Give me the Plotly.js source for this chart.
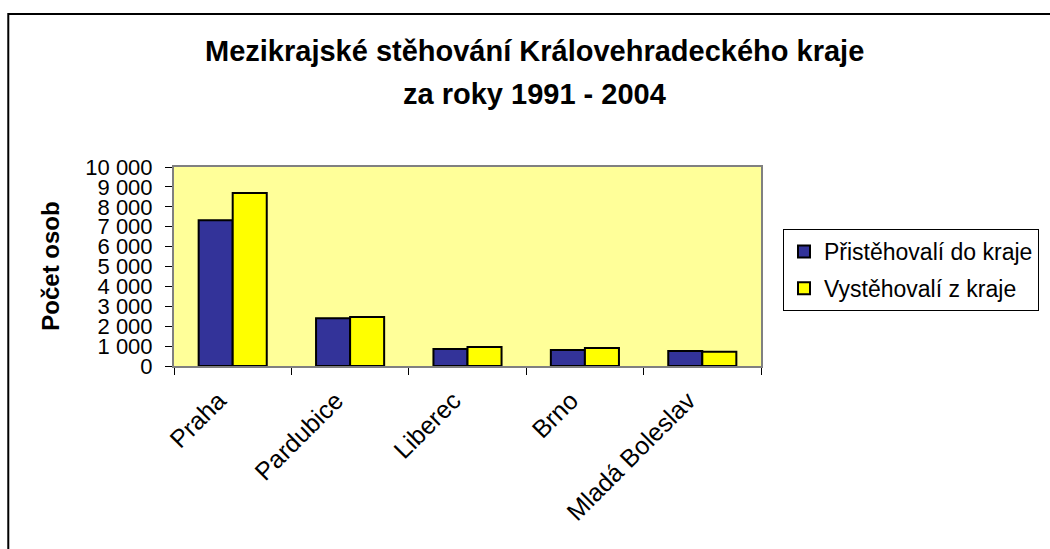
<!DOCTYPE html>
<html>
<head>
<meta charset="utf-8">
<script src="https://cdn.plot.ly/plotly-3.0.1.min.js"></script>
<style>html,body{margin:0;padding:0;background:#fff;}#chart{width:1050px;height:549px;}</style>
</head>
<body>
<div id="chart"></div>
<script>
const categories = ["Praha", "Pardubice", "Liberec", "Brno", "Mladá Boleslav"];
const seriesNames = ["Přistěhovalí do kraje", "Vystěhovalí z kraje"];
const prist = [7320, 2400, 860, 810, 760];
const vyst = [8690, 2460, 950, 900, 710];
const titleLines = ["Mezikrajské stěhování Královehradeckého kraje", "za roky 1991 - 2004"];
const yTitle = "Počet osob";

const FONT = "'Liberation Sans', Arial, sans-serif";
const L = 174, R = 762, T = 167, B = 366, W = 1050, H = 549;
const px2x = p => (p - L) / (R - L);
const py2y = p => (B - p) / (B - T);

const traces = [
  {type: "bar", x: categories, y: prist, name: seriesNames[0], legendgroup: "a",
   marker: {color: "#333399", line: {color: "#000000", width: 2}}},
  {type: "bar", x: categories, y: vyst, name: seriesNames[1], legendgroup: "b",
   marker: {color: "#FFFF00", line: {color: "#000000", width: 2}}}
];

const layout = {
  width: W, height: H,
  margin: {l: L, r: W - R, t: T, b: H - B, pad: 0},
  paper_bgcolor: "#ffffff",
  plot_bgcolor: "#FFFF99",
  separators: ", ",
  font: {family: FONT, color: "#000000", size: 22},
  barmode: "group", bargap: 0.42, bargroupgap: 0,
  showlegend: true,
  legend: {x: px2x(783), y: py2y(229), xanchor: "left", yanchor: "top",
           bordercolor: "#000000", borderwidth: 1, bgcolor: "#ffffff",
           font: {family: FONT, size: 23, color: "#000000"},
           traceorder: "grouped", tracegroupgap: 4, itemclick: false},
  xaxis: {type: "category", tickangle: -45, tickson: "boundaries",
          ticks: "outside", ticklen: 7, tickcolor: "#000000", tickwidth: 1,
          ticklabelshift: -14, ticklabelstandoff: 8,
          showline: true, linecolor: "#808080", linewidth: 2, mirror: true,
          showgrid: false, zeroline: false,
          tickfont: {family: FONT, size: 25, color: "#000000"}},
  yaxis: {range: [0, 10000], dtick: 1000, tickformat: ",d",
          ticks: "outside", ticklen: 7, tickcolor: "#000000", tickwidth: 1,
          ticklabelstandoff: 8,
          showline: true, linecolor: "#808080", linewidth: 2, mirror: true,
          showgrid: false, zeroline: false,
          tickfont: {family: FONT, size: 22, color: "#000000"}},
  annotations: [
    {xref: "paper", yref: "paper", x: px2x(535), y: py2y(51), xanchor: "center", yanchor: "middle",
     text: "<b>" + titleLines[0] + "</b>", showarrow: false,
     font: {family: FONT, size: 29, color: "#000000"}},
    {xref: "paper", yref: "paper", x: px2x(535), y: py2y(94), xanchor: "center", yanchor: "middle",
     text: "<b>" + titleLines[1] + "</b>", showarrow: false,
     font: {family: FONT, size: 29, color: "#000000"}},
    {xref: "paper", yref: "paper", x: px2x(50), y: 0.5, xanchor: "center", yanchor: "middle",
     text: "<b>" + yTitle + "</b>", textangle: -90, showarrow: false,
     font: {family: FONT, size: 24, color: "#000000"}}
  ],
  shapes: [
    {type: "rect", xref: "paper", yref: "paper", layer: "below",
     x0: px2x(8), x1: px2x(1070), y0: py2y(570), y1: py2y(14),
     line: {color: "#000000", width: 2}, fillcolor: "rgba(0,0,0,0)"}
  ]
};

Plotly.newPlot("chart", traces, layout, {displayModeBar: false, staticPlot: true});
</script>
</body>
</html>
